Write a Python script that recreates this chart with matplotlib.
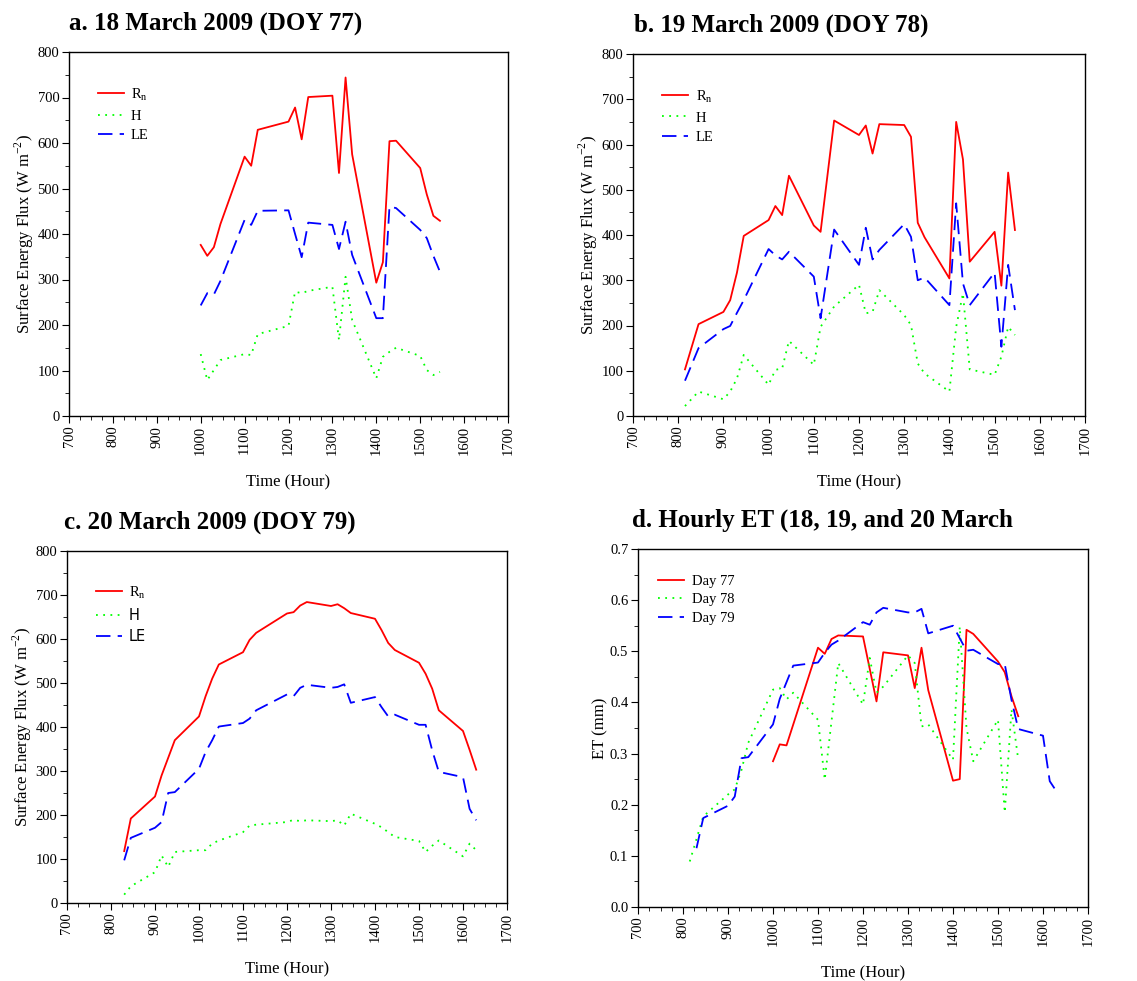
import matplotlib
matplotlib.use("Agg")
import matplotlib.pyplot as plt
from matplotlib.ticker import MultipleLocator, FormatStrFormatter

plt.rcParams['font.family'] = ['Liberation Serif', 'DejaVu Serif']
plt.rcParams['mathtext.fontset'] = 'custom'
plt.rcParams['mathtext.rm'] = 'Liberation Serif'

# ---- day 77 (18 March) ----
t77 = [1000, 1015, 1030, 1045, 1100, 1115, 1130, 1200, 1215, 1230, 1245, 1300,
       1315, 1330, 1345, 1400, 1415, 1430, 1445, 1500, 1515, 1530, 1545]
rn77 = [376, 352, 371, 422, 570, 550, 629, 647, 678, 608, 701, 704,
        534, 744, 575, 293, 338, 604, 605, 545, 487, 440, 429]
h77 = [136, 79, 101, 123, 136, 134, 180, 198, 273, 270, 275, 284,
       167, 306, 211, 83, 130, 141, 150, 132, 101, 90, 97]
le77 = [243, 270, 267, 297, 431, 420, 451, 452, 400, 349, 425, 420,
        367, 427, 354, 215, 215, 460, 457, 409, 391, 352, 317]

# ---- day 78 (19 March) ----
t78 = [815, 845, 900, 915, 930, 945, 1000, 1015, 1030, 1045, 1100, 1115,
       1145, 1200, 1215, 1230, 1245, 1300, 1315, 1330, 1345, 1400, 1415,
       1430, 1445, 1500, 1515, 1530, 1545]
rn78 = [103, 203, 230, 256, 317, 398, 433, 464, 444, 531, 421, 407,
        653, 621, 642, 580, 645, 643, 617, 427, 395, 304, 650,
        567, 341, 407, 288, 538, 411]
h78 = [22, 54, 37, 54, 83, 135, 69, 102, 105, 166, 113, 197,
       242, 290, 227, 230, 278, 223, 201, 116, 94, 54, 197,
       271, 103, 91, 131, 197, 179]
le78 = [78, 150, 192, 199, 228, 256, 369, 355, 346, 363, 308, 216,
        412, 334, 416, 346, 367, 424, 396, 300, 306, 245, 470,
        293, 245, 317, 153, 334, 234]

# ---- day 79 (20 March) ----
t79 = [830, 845, 900, 915, 930, 945, 1000, 1015, 1030, 1045, 1100, 1115,
       1130, 1200, 1215, 1230, 1245, 1300, 1315, 1330, 1345, 1400, 1415,
       1430, 1445, 1500, 1515, 1530, 1545, 1600, 1615, 1630]
rn79 = [118, 192, 242, 290, 330, 370, 424, 470, 510, 542, 570, 598,
        614, 658, 661, 676, 684, 675, 679, 670, 659, 646, 620,
        591, 575, 546, 521, 487, 438, 391, 348, 303]
h79 = [19, 38, 70, 108, 82, 116, 120, 120, 135, 142, 161, 176,
       178, 184, 189, 186, 188, 186, 188, 176, 203, 180, 172,
       161, 150, 141, 116, 130, 142, 106, 135, 120]
le79 = [97, 148, 171, 184, 250, 252, 305, 343, 370, 401, 409, 419,
        438, 474, 470, 489, 496, 489, 491, 497, 455, 468, 445,
        424, 428, 405, 405, 347, 298, 286, 214, 188]

# ---- hourly ET (mm) ----
et_t77 = [1000, 1015, 1030, 1100, 1115, 1130, 1145, 1200, 1230, 1245, 1300,
          1315, 1330, 1345, 1400, 1415, 1430, 1445, 1500, 1515, 1530, 1545]
et77 = [0.285, 0.318, 0.316, 0.507, 0.495, 0.524, 0.531, 0.529, 0.402, 0.498, 0.492,
        0.428, 0.507, 0.424, 0.247, 0.250, 0.542, 0.534, 0.480, 0.459, 0.412, 0.373]
et_t78 = [815, 845, 900, 915, 930, 945, 1000, 1015, 1030, 1045, 1100, 1115,
          1145, 1200, 1215, 1230, 1245, 1300, 1315, 1330, 1345, 1400, 1415,
          1430, 1445, 1500, 1515, 1530, 1545]
et78 = [0.089, 0.177, 0.220, 0.230, 0.268, 0.321, 0.425, 0.428, 0.406, 0.419, 0.366, 0.249,
        0.477, 0.396, 0.487, 0.419, 0.431, 0.492, 0.477, 0.353, 0.357, 0.288, 0.548,
        0.350, 0.285, 0.366, 0.185, 0.386, 0.288]
et_t79 = [830, 845, 900, 915, 930, 945, 1000, 1015, 1045, 1100, 1115, 1130,
          1145, 1200, 1215, 1230, 1245, 1300, 1315, 1330, 1345, 1400, 1430,
          1445, 1500, 1515, 1530, 1545, 1600, 1615, 1630]
et79 = [0.115, 0.174, 0.198, 0.216, 0.291, 0.293, 0.357, 0.407, 0.472, 0.478, 0.497, 0.513,
        0.521, 0.557, 0.552, 0.576, 0.585, 0.576, 0.576, 0.583, 0.535, 0.550, 0.501,
        0.503, 0.475, 0.475, 0.405, 0.348, 0.335, 0.246, 0.226]

RED = '#ff0000'
GREEN = '#00ff00'
BLUE = '#0000ff'
DOT = (0, (1, 3))
DASH = (0, (8, 4))

W, H = 1137, 981
fig = plt.figure(figsize=(W / 100, H / 100), dpi=100)


def px_axes(l, t, r, b):
    return fig.add_axes([l / W, 1 - b / H, (r - l) / W, (b - t) / H])


def style(ax, ylim, ymaj, ymin, ylabel, yfmt=None):
    ax.set_xlim(700, 1700)
    ax.set_ylim(*ylim)
    ax.xaxis.set_major_locator(MultipleLocator(100))
    ax.xaxis.set_minor_locator(MultipleLocator(25))
    ax.yaxis.set_major_locator(MultipleLocator(ymaj))
    ax.yaxis.set_minor_locator(MultipleLocator(ymin))
    if yfmt:
        ax.yaxis.set_major_formatter(FormatStrFormatter(yfmt))
    ax.tick_params(which='both', direction='out', top=False, right=False,
                   labelsize=10.5, pad=2)
    ax.tick_params(which='major', length=5)
    ax.tick_params(which='minor', length=3)
    for lab in ax.get_xticklabels():
        lab.set_rotation(90)
    ax.set_xlabel('Time (Hour)', fontsize=12, labelpad=14)
    ax.set_ylabel(ylabel, fontsize=12, labelpad=1)
    for s in ax.spines.values():
        s.set_linewidth(1.0)


def flux_panel(ax, t, rn, h, le, sans_legend=False):
    ax.plot(t, rn, color=RED, lw=1.3, label='R$_\\mathregular{n}$')
    ax.plot(t, h, color=GREEN, lw=1.3, linestyle=DOT, label='H')
    ax.plot(t, le, color=BLUE, lw=1.3, linestyle=DASH, label='LE')
    style(ax, (0, 800), 100, 50, 'Surface Energy Flux (W m$^{\\mathregular{-2}}$)')
    leg = ax.legend(loc='upper left', frameon=False, fontsize=10.5,
                    handlelength=1.8, handletextpad=0.5, borderaxespad=0.2,
                    bbox_to_anchor=(0.045, 0.93), labelspacing=0.45)
    if sans_legend:
        for txt in leg.get_texts()[1:]:
            txt.set_family('DejaVu Sans')


ax_a = px_axes(69, 52, 508, 416)
flux_panel(ax_a, t77, rn77, h77, le77)
ax_b = px_axes(633, 54, 1085, 416)
flux_panel(ax_b, t78, rn78, h78, le78)
ax_c = px_axes(67, 551, 507, 903)
flux_panel(ax_c, t79, rn79, h79, le79, sans_legend=True)

ax_d = px_axes(638, 549, 1088, 907)
ax_d.plot(et_t77, et77, color=RED, lw=1.3, label='Day 77')
ax_d.plot(et_t78, et78, color=GREEN, lw=1.3, linestyle=DOT, label='Day 78')
ax_d.plot(et_t79, et79, color=BLUE, lw=1.3, linestyle=DASH, label='Day 79')
style(ax_d, (0, 0.7), 0.1, 0.05, 'ET (mm)', yfmt='%.1f')
ax_d.legend(loc='upper left', frameon=False, fontsize=10.5, handlelength=1.8,
            handletextpad=0.5, borderaxespad=0.2, bbox_to_anchor=(0.025, 0.952),
            labelspacing=0.35)

titles = [
    ('a. 18 March 2009 (DOY 77)', 69, 23),
    ('b. 19 March 2009 (DOY 78)', 634, 25),
    ('c. 20 March 2009 (DOY 79)', 64, 522),
    ('d. Hourly ET (18, 19, and 20 March', 632, 520),
]
for txt, x, y in titles:
    fig.text(x / W, 1 - y / H, txt, fontsize=18, fontweight='bold',
             ha='left', va='center')

fig.savefig('out.png', dpi=100)
